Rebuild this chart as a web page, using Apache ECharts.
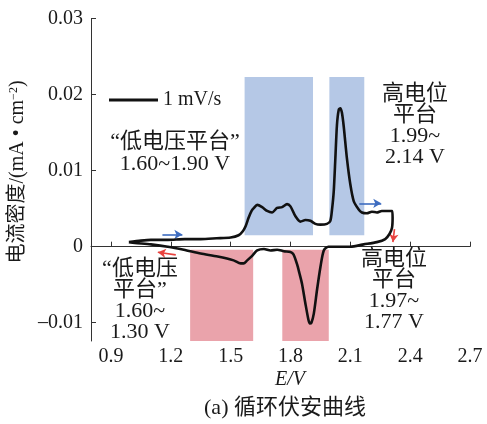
<!DOCTYPE html>
<html>
<head>
<meta charset="utf-8">
<script src="https://cdn.jsdelivr.net/npm/echarts@6/dist/echarts.min.js"></script>
<style>
  html, body { margin: 0; padding: 0; background: #fff; }
  #chart { width: 487px; height: 424px; }
</style>
</head>
<body>
<div id="chart"></div>
<script>
// Cyclic voltammogram at 1 mV/s: anodic sweep then cathodic sweep (E in V, j in mA/cm²)
const anodicE = [0.99, 1.05, 1.10, 1.185, 1.27, 1.35, 1.43, 1.50, 1.54, 1.56, 1.575, 1.59, 1.605, 1.617, 1.633,
  1.658, 1.683, 1.708, 1.733, 1.758, 1.783, 1.80, 1.825, 1.85, 1.875, 1.90, 1.925, 1.95, 1.983, 2.00, 2.008,
  2.017, 2.025, 2.033, 2.042, 2.05, 2.058, 2.067, 2.083, 2.10, 2.117, 2.142, 2.158, 2.183, 2.208, 2.233,
  2.258, 2.292, 2.31];
const anodicJ = [0.0006, 0.0008, 0.0009, 0.0009, 0.0010, 0.0010, 0.0011, 0.0012, 0.0015, 0.0020, 0.0027, 0.0038,
  0.0047, 0.0051, 0.0055, 0.0052, 0.0047, 0.0045, 0.0051, 0.0052, 0.0056, 0.0053, 0.0040, 0.0033, 0.0035,
  0.0034, 0.0030, 0.0029, 0.0030, 0.0034, 0.0048, 0.0073, 0.0116, 0.0160, 0.0180, 0.0182, 0.0176, 0.0158,
  0.0116, 0.0082, 0.0060, 0.0049, 0.0045, 0.0044, 0.0046, 0.0045, 0.0047, 0.0047, 0.0047];
const cathodicE = [2.312, 2.309, 2.297, 2.275, 2.233, 2.167, 2.10, 2.05, 1.99, 1.967, 1.95, 1.933, 1.917, 1.905,
  1.897, 1.89, 1.875, 1.858, 1.845, 1.833, 1.815, 1.80, 1.767, 1.733, 1.70, 1.667, 1.633, 1.608, 1.583, 1.565,
  1.55, 1.515, 1.435, 1.35, 1.265, 1.185, 1.10, 1.02, 0.99];
const cathodicJ = [0.0038, 0.0025, 0.0017, 0.0010, 0.0006, 0.0003, 0.0000, 0.0000, 0.0000, -0.0005, -0.0027,
  -0.0057, -0.0088, -0.0100, -0.0101, -0.0096, -0.0075, -0.0049, -0.0035, -0.0023, -0.0010, -0.0007, -0.0006,
  -0.0004, -0.0005, -0.0003, -0.0005, -0.0012, -0.0018, -0.0022, -0.0022, -0.0018, -0.0013, -0.0009, -0.0004,
  0.0000, 0.0003, 0.0005, 0.0006];

// Axis ticks
const xTicks = [0.9, 1.2, 1.5, 1.8, 2.1, 2.4, 2.7];
const yTicks = [-0.01, 0, 0.01, 0.02, 0.03];
const xRange = [0.8, 2.7];
const yRange = [-0.0124, 0.03];

// Plateau windows (potential ranges) and their current extents
const chargeBands = [[1.57, 1.913], [1.995, 2.17]];
const chargeBandJ = [0.0015, 0.0223];
const dischargeBands = [[1.297, 1.613], [1.759, 1.992]];
const dischargeBandTop = -0.0004;

// Sweep-direction arrows (start, end)
const sweepArrows = [
  { from: [1.158, 0.0016], to: [1.258, 0.0016], color: '#3d6cc0' },
  { from: [2.145, 0.0057], to: [2.255, 0.0057], color: '#3d6cc0' },
  { from: [1.225, -0.00108], to: [1.135, -0.00074], color: '#e8423e' },
  { from: [2.3215, 0.0023], to: [2.3135, 0.0006], color: '#e8423e' }
];

const curve = anodicE.map((e, i) => [e, anodicJ[i]])
  .concat(cathodicE.map((e, i) => [e, cathodicJ[i]]));

const bandAreas = chargeBands.map(b => [
  { xAxis: b[0], yAxis: chargeBandJ[1], itemStyle: { color: '#b5c8e6' } },
  { xAxis: b[1], yAxis: chargeBandJ[0] }
]).concat(dischargeBands.map(b => [
  { xAxis: b[0], yAxis: dischargeBandTop, itemStyle: { color: '#eaa3ab' } },
  { xAxis: b[1], yAxis: yRange[0] }
]));

const arrowLines = sweepArrows.map(a => [
  { coord: a.from, lineStyle: { color: a.color, width: 1.6, type: 'solid' } },
  { coord: a.to }
]);

const serif = '"Liberation Serif", "Noto Sans CJK SC", serif';
const ink = '#1a1a1a';

const chart = echarts.init(document.getElementById('chart'), null, { renderer: 'canvas' });

function note(x, y, text, lineHeight) {
  return {
    type: 'text', x: x, y: y, z: 20,
    style: {
      text: text, fill: ink, font: '22px ' + serif,
      textAlign: 'center', textVerticalAlign: 'middle', lineHeight: lineHeight || 21
    }
  };
}

chart.setOption({
  animation: false,
  backgroundColor: '#fff',
  grid: { left: 91, right: 17, top: 18.5, bottom: 83 },
  legend: {
    data: ['1 mV/s'],
    left: 104, top: 85,
    icon: 'rect', itemWidth: 49, itemHeight: 3,
    textStyle: { fontFamily: serif, fontSize: 20, color: ink }
  },
  xAxis: {
    type: 'value', min: xRange[0], max: xRange[1],
    splitLine: { show: false },
    axisLine: { lineStyle: { color: '#333', width: 1 } },
    axisTick: { inside: true, length: 5, customValues: xTicks, lineStyle: { color: '#333' } },
    axisLabel: {
      customValues: xTicks, margin: 6,
      formatter: v => v.toFixed(1),
      fontFamily: serif, fontSize: 20, color: ink
    }
  },
  yAxis: {
    type: 'value', min: yRange[0], max: yRange[1],
    splitLine: { show: false },
    axisLine: { show: true, lineStyle: { color: '#333', width: 1 } },
    axisTick: { show: true, inside: true, length: 5, customValues: yTicks, lineStyle: { color: '#333' } },
    axisLabel: {
      customValues: yTicks, margin: 8,
      formatter: v => (Math.abs(v) < 1e-9 ? '0' : (v < 0 ? '–' + Math.abs(v).toFixed(2) : v.toFixed(2))),
      fontFamily: serif, fontSize: 20, color: ink
    }
  },
  series: [
    {
      name: 'bands', type: 'line', data: [], z: 1, silent: true,
      markArea: { silent: true, data: bandAreas, itemStyle: { opacity: 1 } },
      markLine: {
        silent: true, symbol: ['none', 'arrow'], symbolSize: [7, 8],
        label: { show: false }, data: arrowLines
      }
    },
    {
      name: '1 mV/s', type: 'line', data: curve, z: 5,
      showSymbol: false, symbol: 'none', smooth: 0.25,
      lineStyle: { color: '#111', width: 2.6 },
      itemStyle: { color: '#111' }
    }
  ],
  graphic: [
    note(175, 153, '“低电压平台”\n1.60~1.90 V', 22),
    note(415, 126, '高电位\n平台\n1.99~\n2.14 V'),
    note(394, 291, '高电位\n平台\n1.97~\n1.77 V'),
    note(140, 301, '“低电压\n平台”\n1.60~\n1.30 V'),
    {
      type: 'text', x: 18, y: 172, rotation: Math.PI / 2, z: 20,
      style: {
        text: '电流密度/(mA • cm{s|−2})', fill: ink, font: '20px ' + serif,
        textAlign: 'center', textVerticalAlign: 'middle',
        rich: { s: { fontSize: 12, fontFamily: serif, verticalAlign: 'top', fill: ink } }
      }
    },
    {
      type: 'text', x: 290, y: 380, z: 20,
      style: {
        text: 'E/V', fill: ink, font: 'italic 20px ' + serif,
        textAlign: 'center', textVerticalAlign: 'middle'
      }
    },
    {
      type: 'text', x: 285, y: 408, z: 20,
      style: {
        text: '(a) 循环伏安曲线', fill: ink, font: '22px ' + serif,
        textAlign: 'center', textVerticalAlign: 'middle'
      }
    }
  ]
});
</script>
</body>
</html>
